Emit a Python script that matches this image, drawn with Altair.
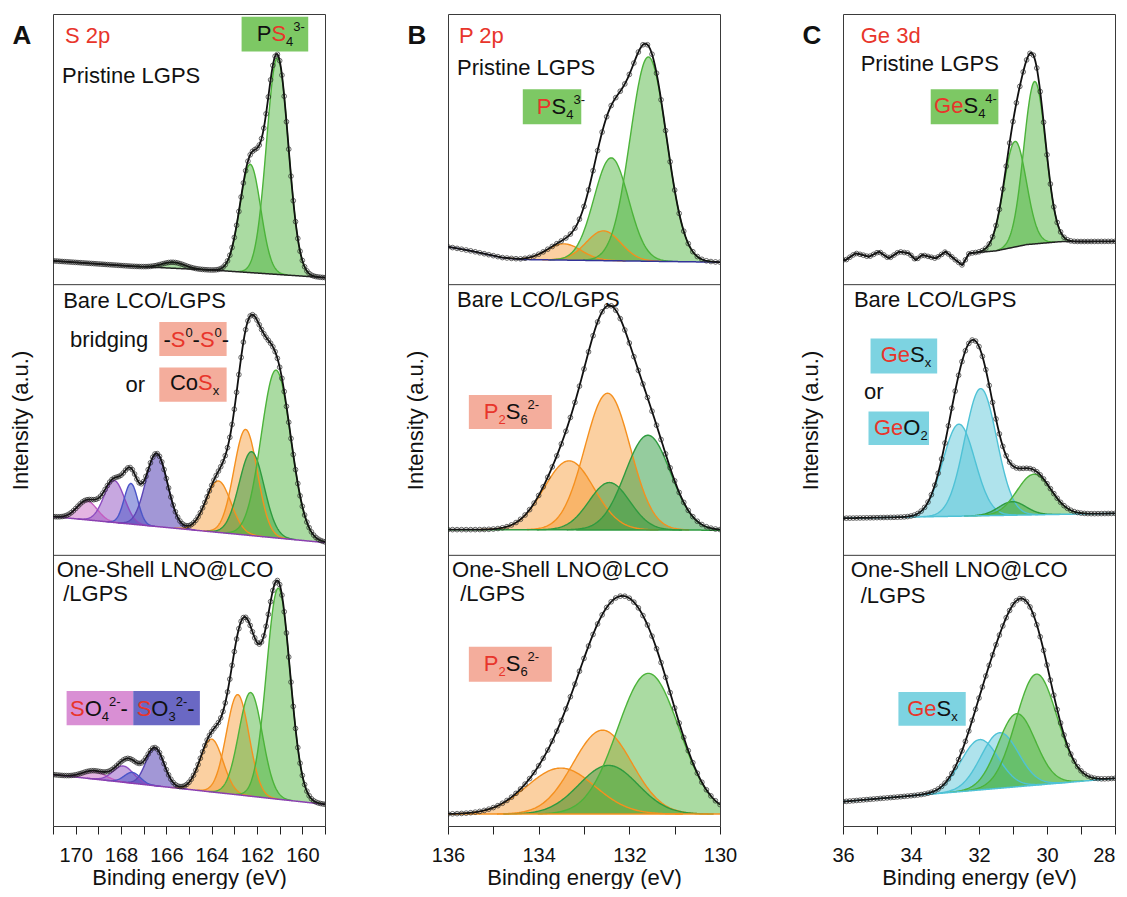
import numpy as np
import pandas as pd
import altair as alt

FONT = "Liberation Sans"
RED = "#e8352b"
INK = "#111111"

# ---------------- axis ranges / ticks ----------------
A_RANGE = [159, 171]
B_RANGE = [130, 136]
C_RANGE = [28, 36]
A_TICKS = list(range(159, 172))
B_TICKS = list(range(130, 137))
C_TICKS = list(range(28, 37))

# ---------------- fitted components (center eV, height, sigma eV) ----------------
# panel A (S 2p)
A1_center = [165.7, 162.3, 161.1]
A1_height = [0.022, 0.40, 0.80]
A1_sigma = [0.5, 0.46, 0.48]
A1_role = ["green", "green", "green"]
A1_bgE = [159, 163.8, 167.5, 171]
A1_bgf = [0.026, 0.053, 0.068, 0.088]

A2_center = [169.5, 168.3, 167.56, 166.43, 163.7, 162.5, 162.24, 161.16]
A2_height = [0.07, 0.155, 0.15, 0.27, 0.19, 0.39, 0.31, 0.62]
A2_sigma = [0.45, 0.45, 0.3, 0.48, 0.55, 0.52, 0.55, 0.65]
A2_role = ["magenta", "purple", "blue", "indigo", "orange", "orange", "dgreen", "green"]
A2_bgE = [159, 171]
A2_bgf = [0.047, 0.143]

A3_center = [169.2, 167.9, 167.5, 166.5, 164.0, 162.85, 162.28, 161.06]
A3_height = [0.03, 0.06, 0.04, 0.14, 0.195, 0.37, 0.383, 0.78]
A3_sigma = [0.5, 0.45, 0.35, 0.4, 0.5, 0.5, 0.52, 0.52]
A3_role = ["magenta", "purple", "blue", "indigo", "orange", "orange", "green", "green"]
A3_bgE = [159, 171]
A3_bgf = [0.08, 0.19]

# panel B (P 2p)
B1_center = [133.44, 132.57, 132.4, 131.58]
B1_height = [0.06, 0.11, 0.38, 0.755]
B1_sigma = [0.38, 0.38, 0.38, 0.40]
B1_role = ["orange", "orange", "green", "green"]
B1_bgE = [130, 134.4, 134.8, 135.5, 136]
B1_bgf = [0.083, 0.093, 0.10, 0.125, 0.14]

B2_center = [133.33, 132.48, 132.44, 131.59]
B2_height = [0.255, 0.505, 0.175, 0.35]
B2_sigma = [0.55, 0.5, 0.45, 0.5]
B2_role = ["orange", "orange", "dgreen", "dgreen"]
B2_bgE = [130, 136]
B2_bgf = [0.093, 0.095]

B3_center = [133.51, 132.59, 132.46, 131.58]
B3_height = [0.17, 0.31, 0.18, 0.52]
B3_sigma = [0.75, 0.65, 0.65, 0.68]
B3_role = ["orange", "orange", "dgreen", "green"]
B3_bgE = [130, 136]
B3_bgf = [0.044, 0.044]

# panel C (Ge 3d)
C1_center = [30.94, 30.36]
C1_height = [0.39, 0.60]
C1_sigma = [0.33, 0.32]
C1_role = ["green", "green"]
C1_bgE = [35.92, 35.63, 35.43, 35.24, 34.94, 34.65, 34.35, 34.06, 33.86, 33.67,
          33.27, 32.98, 32.69, 32.49, 32.29, 32.10, 31.5, 30.6, 29.6, 28.0]
C1_bgf = [0.091, 0.116, 0.110, 0.103, 0.122, 0.097, 0.122, 0.116, 0.091, 0.110,
          0.097, 0.122, 0.091, 0.072, 0.116, 0.118, 0.125, 0.148, 0.159, 0.160]

C2_center = [32.59, 31.95, 31.02, 30.38]
C2_height = [0.34, 0.47, 0.05, 0.15]
C2_sigma = [0.47, 0.47, 0.4, 0.5]
C2_role = ["cyan", "cyan", "dgreen", "green"]
C2_bgE = [28, 36]
C2_bgf = [0.155, 0.137]

C3_center = [31.98, 31.39, 30.89, 30.31]
C3_height = [0.186, 0.205, 0.27, 0.41]
C3_sigma = [0.55, 0.55, 0.55, 0.6]
C3_role = ["cyan", "cyan", "green", "green"]
C3_bgE = [28, 36]
C3_bgf = [0.176, 0.09]

# ---------------- styles ----------------
ROLE_COLOR = {"green": "#4cb33a", "dgreen": "#2e9b3f", "orange": "#f5901e",
              "magenta": "#c45cc0", "purple": "#8d4cc0", "blue": "#4a55c8",
              "indigo": "#5a45b5", "cyan": "#4fc2d6"}
ROLE_OP = {"green": 0.68, "dgreen": 0.72, "orange": 0.6, "magenta": 0.65,
           "purple": 0.7, "blue": 0.75, "indigo": 0.8, "cyan": 0.65}
BOX = {"green": "#7dc864", "salmon": "#f4ad9c", "magenta": "#d98fd4",
       "indigo": "#6a68c4", "cyan": "#7dd3e1"}

PLOT_W = 272
PLOT_H = 812
PPY = PLOT_H / 3.0
FS = 22
FS_SMALL = 13

CHARW = {"P": 667, "S": 667, "2": 556, "p": 556, " ": 278, "r": 333, "i": 222, "s": 500,
         "t": 278, "n": 556, "e": 556, "L": 556, "G": 778, "B": 667, "a": 556, "C": 722,
         "O": 778, "/": 278, "b": 556, "d": 556, "g": 556, "o": 556, "-": 333, "0": 556,
         "x": 500, "4": 556, "3": 556, "6": 556, "h": 556, "l": 222, "N": 722, "@": 1015,
         "c": 500}


def text_w(s, size):
    return sum(CHARW.get(ch, 556) for ch in s) / 1000.0 * size


def rich(segs, E0, Y0, ppe):
    rows = []
    xoff = 0.0
    for txt, col, kind in segs:
        fs = FS if kind == "n" else FS_SMALL
        dy = 0 if kind == "n" else (8 if kind == "sub" else -7)
        rows.append(dict(E=E0 - xoff / ppe, Y=Y0 - dy / PPY, t=txt, c=col, s=fs))
        xoff += text_w(txt, fs)
    return rows


def gauss(E, c, h, s):
    return h * np.exp(-0.5 * ((E - c) / s) ** 2)


def panel(center, height, sigma, role, bgE, bgf, bgcolor):
    return dict(center=center, height=height, sigma=sigma, role=role,
                bgE=bgE, bgf=bgf, bgcolor=bgcolor)


def build_column(rng, ticks, panels, plain, riches, boxes, letter, last_right=None):
    lo, hi = rng
    ppe = PLOT_W / (hi - lo)
    grid = np.round(np.arange(lo, hi + 1e-9, 0.02), 3)
    pgrid = np.round(np.arange(lo, hi + 1e-9, 0.1), 2)
    comp_rows, bg_rows, env_rows, pt_rows = [], [], [], []
    for p, P in enumerate(panels):
        off = 2 - p
        bE = np.array(P["bgE"], dtype=float)
        bf = np.array(P["bgf"], dtype=float)
        o = np.argsort(bE)
        bE, bf = bE[o], bf[o]
        base = np.interp(grid, bE, bf)
        env = base.copy()
        for i, (c, h, s, r) in enumerate(zip(P["center"], P["height"], P["sigma"], P["role"])):
            g = gauss(grid, c, h, s)
            env = env + g
            m = np.abs(grid - c) <= 3.6 * s
            for E, b, gv in zip(grid[m], base[m], g[m]):
                comp_rows.append(dict(E=E, Y=off + b + gv, Y0=off + b,
                                      key=f"{p}_{i:02d}", col=ROLE_COLOR[r], op=ROLE_OP[r]))
        for E, b, ev in zip(grid, base, env):
            bg_rows.append(dict(E=E, Y=off + b, panel=p, c=P["bgcolor"]))
            env_rows.append(dict(E=E, Y=off + ev, panel=p))
        pb = np.interp(pgrid, bE, bf)
        pe = pb.copy()
        for c, h, s in zip(P["center"], P["height"], P["sigma"]):
            pe = pe + gauss(pgrid, c, h, s)
        for E, v in zip(pgrid, pe):
            pt_rows.append(dict(E=E, Y=off + v))

    xsc = alt.Scale(domain=[lo, hi], reverse=True, nice=False, zero=False)
    ysc = alt.Scale(domain=[0, 3], nice=False, zero=False)
    ax_kw = dict(values=ticks, labelExpr="datum.value % 2 == 0 ? datum.label : ''",
                 tickSize=8, tickColor="#222", tickWidth=1, labelFontSize=20,
                 titleFontSize=22, titleFontWeight="normal", labelColor=INK,
                 titleColor=INK, grid=False, domain=False, labelPadding=11,
                 titlePadding=2, labelFlush=False, labelOverlap=False, format="d",
                 title="Binding energy (eV)")
    if last_right is not None:
        ax_kw["labelAlign"] = {"condition": {"test": f"datum.value == {last_right}",
                                             "value": "right"}, "value": "center"}
    xax = alt.Axis(**ax_kw)
    yax = alt.Axis(title="Intensity (a.u.)", labels=False, ticks=False, domain=False,
                   grid=False, titleFontSize=22, titleFontWeight="normal",
                   titlePadding=21, titleColor=INK)
    X = alt.X("E:Q", scale=xsc, axis=xax)
    Y = alt.Y("Y:Q", scale=ysc, axis=yax)

    areas = alt.Chart(pd.DataFrame(comp_rows)).mark_area(
        line={"strokeWidth": 1.4}, clip=True).encode(
        x=X, y=Y, y2="Y0:Q", color=alt.Color("col:N", scale=None),
        fillOpacity=alt.FillOpacity("op:Q", scale=None), detail="key:N")
    bgl = alt.Chart(pd.DataFrame(bg_rows)).mark_line(strokeWidth=1.5, clip=True).encode(
        x=X, y=Y, detail="panel:N", color=alt.Color("c:N", scale=None))
    envl = alt.Chart(pd.DataFrame(env_rows)).mark_line(
        color=INK, strokeWidth=1.8, clip=True).encode(x=X, y=Y, detail="panel:N")
    pts = alt.Chart(pd.DataFrame(pt_rows)).mark_point(
        shape="circle", filled=False, size=22, strokeWidth=0.8, color="#222",
        opacity=0.85, clip=True).encode(x=X, y=Y)
    seps = alt.Chart(pd.DataFrame({"Y": [1, 2]})).mark_rule(
        color="#3a3a3a", strokeWidth=1).encode(y=Y)

    box_df = pd.DataFrame([dict(E=b[0], E2=b[1], Y=b[2], Y2=b[3], c=BOX[b[4]]) for b in boxes])
    boxl = alt.Chart(box_df).mark_rect().encode(
        x=X, x2="E2:Q", y=Y, y2="Y2:Q", color=alt.Color("c:N", scale=None))

    trows = [dict(E=e, Y=yv, t=t, c=c, s=FS) for (t, e, yv, c) in plain]
    for segs, e, yv in riches:
        trows += rich(segs, e, yv, ppe)
    texts = alt.Chart(pd.DataFrame(trows)).mark_text(
        font=FONT, align="left", baseline="middle").encode(
        x=X, y=Y, text="t:N", color=alt.Color("c:N", scale=None),
        size=alt.Size("s:Q", scale=None))
    let = alt.Chart(pd.DataFrame({"t": [letter]})).mark_text(
        font=FONT, fontSize=26, fontWeight="bold", color=INK, align="center",
        baseline="middle").encode(x=alt.value(-31), y=alt.value(22), text="t:N")

    return alt.layer(areas, bgl, envl, pts, seps, boxl, texts, let).properties(
        width=PLOT_W, height=PLOT_H)


K = INK
colA = build_column(
    A_RANGE, A_TICKS,
    [panel(A1_center, A1_height, A1_sigma, A1_role, A1_bgE, A1_bgf, "#222222"),
     panel(A2_center, A2_height, A2_sigma, A2_role, A2_bgE, A2_bgf, "#8a3fb0"),
     panel(A3_center, A3_height, A3_sigma, A3_role, A3_bgE, A3_bgf, "#8a3fb0")],
    [("S 2p", 170.47, 2.919, RED), ("Pristine LGPS", 170.6, 2.771, K),
     ("Bare LCO/LGPS", 170.55, 1.940, K), ("bridging", 170.25, 1.795, K),
     ("or", 167.8, 1.629, K), ("One-Shell LNO@LCO", 170.84, 0.947, K),
     ("/LGPS", 170.55, 0.858, K)],
    [([("P", K, "n"), ("S", RED, "n"), ("4", K, "sub"), ("3-", K, "sup")], 162.01, 2.925),
     ([("-", K, "n"), ("S", RED, "n"), ("0", K, "sup"), ("-", K, "n"), ("S", RED, "n"),
       ("0", K, "sup"), ("-", K, "n")], 166.13, 1.795),
     ([("Co", K, "n"), ("S", RED, "n"), ("x", K, "sub")], 165.84, 1.635),
     ([("S", RED, "n"), ("O", K, "n"), ("4", K, "sub"), ("2-", K, "sup"), ("-", K, "n")], 170.25, 0.434),
     ([("S", RED, "n"), ("O", K, "n"), ("3", K, "sub"), ("2-", K, "sup"), ("-", K, "n")], 167.31, 0.434)],
    [(162.68, 159.74, 2.990, 2.861, "green"), (166.31, 163.34, 1.862, 1.736, "salmon"),
     (166.31, 163.34, 1.694, 1.567, "salmon"), (170.40, 167.46, 0.499, 0.372, "magenta"),
     (167.46, 164.52, 0.499, 0.372, "indigo")],
    "A")

colB = build_column(
    B_RANGE, B_TICKS,
    [panel(B1_center, B1_height, B1_sigma, B1_role, B1_bgE, B1_bgf, "#33339a"),
     panel(B2_center, B2_height, B2_sigma, B2_role, B2_bgE, B2_bgf, "#2e9b3f"),
     panel(B3_center, B3_height, B3_sigma, B3_role, B3_bgE, B3_bgf, "#f5901e")],
    [("P 2p", 135.76, 2.919, RED), ("Pristine LGPS", 135.80, 2.802, K),
     ("Bare LCO/LGPS", 135.80, 1.942, K), ("One-Shell LNO@LCO", 135.91, 0.945, K),
     ("/LGPS", 135.73, 0.858, K)],
    [([("P", RED, "n"), ("S", K, "n"), ("4", K, "sub"), ("3-", K, "sup")], 134.04, 2.657),
     ([("P", RED, "n"), ("2", RED, "sub"), ("S", K, "n"), ("6", K, "sub"), ("2-", K, "sup")], 135.21, 1.531),
     ([("P", RED, "n"), ("2", RED, "sub"), ("S", K, "n"), ("6", K, "sub"), ("2-", K, "sup")], 135.21, 0.597)],
    [(134.35, 133.06, 2.722, 2.593, "green"), (135.54, 133.71, 1.592, 1.467, "salmon"),
     (135.54, 133.71, 0.662, 0.533, "salmon")],
    "B")

colC = build_column(
    C_RANGE, C_TICKS,
    [panel(C1_center, C1_height, C1_sigma, C1_role, C1_bgE, C1_bgf, "#222222"),
     panel(C2_center, C2_height, C2_sigma, C2_role, C2_bgE, C2_bgf, "#4fc2d6"),
     panel(C3_center, C3_height, C3_sigma, C3_role, C3_bgE, C3_bgf, "#4fc2d6")],
    [("Ge 3d", 35.48, 2.919, RED), ("Pristine LGPS", 35.48, 2.817, K),
     ("Bare LCO/LGPS", 35.68, 1.942, K), ("or", 35.38, 1.604, K),
     ("One-Shell LNO@LCO", 35.77, 0.945, K), ("/LGPS", 35.48, 0.849, K)],
    [([("Ge", RED, "n"), ("S", K, "n"), ("4", K, "sub"), ("4-", K, "sup")], 33.32, 2.661),
     ([("Ge", RED, "n"), ("S", K, "n"), ("x", K, "sub")], 34.89, 1.740),
     ([("Ge", RED, "n"), ("O", K, "n"), ("2", K, "sub")], 35.09, 1.469),
     ([("Ge", RED, "n"), ("S", K, "n"), ("x", K, "sub")], 34.11, 0.434)],
    [(33.42, 31.43, 2.722, 2.593, "green"), (35.19, 33.23, 1.801, 1.672, "cyan"),
     (35.25, 33.47, 1.531, 1.408, "cyan"), (34.37, 32.39, 0.495, 0.370, "cyan")],
    "C", last_right=28)

chart = alt.hconcat(colA, colB, colC, spacing=123, bounds="flush").properties(
    padding={"left": 0, "top": 5, "right": 0, "bottom": 0}
).configure(font=FONT).configure_axis(
    labelFontSize=20, titleFontSize=22, labelFont=FONT, titleFont=FONT
).configure_view(stroke="#3a3a3a", strokeWidth=1)

chart.save("out.html", embed_options={"renderer": "svg", "actions": False})
